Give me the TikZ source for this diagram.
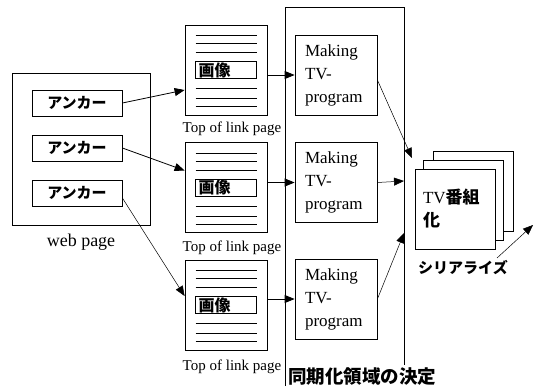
\documentclass[tikz,border=0pt]{standalone}
\usepackage{fontspec}
\setmainfont{Liberation Serif}
\newfontfamily\jpfont{Noto Sans CJK JP}
\usetikzlibrary{arrows.meta}

\tikzset{
  box/.style={draw, line width=0.8pt, inner sep=0pt},
  anchorbox/.style={box, minimum width=90pt, minimum height=26pt,
    font=\jpfont\bfseries\fontsize{15}{18}\selectfont},
  linkpage/.style={box, minimum width=82pt, minimum height=90pt},
  imagebox/.style={box, minimum width=61pt, minimum height=17pt, text width=55pt,
    align=left, inner xsep=3pt, font=\jpfont\bfseries\fontsize{16}{18}\selectfont},
  makingbox/.style={box, minimum width=82pt, minimum height=80pt, text width=62pt,
    inner xsep=10pt, align=left, font=\fontsize{17}{23}\selectfont},
  tvbox/.style={box, fill=white, minimum width=80pt, minimum height=80pt},
  pagetext/.style={font=\fontsize{15}{18}\selectfont},
  jptext/.style={font=\jpfont\bfseries\fontsize{15}{18}\selectfont},
}

\begin{document}
\begin{tikzpicture}[x=1pt, y=-1pt, >={Triangle[length=10pt,width=8pt]}]
    \useasboundingbox (0,0) rectangle (540,386);

    % web page with anchors
    \node[box, minimum width=138pt, minimum height=152pt] (web) at (81,149) {};
    \node[font=\fontsize{18}{20}\selectfont] (weblabel) at (81,242) {web page};
    \node[anchorbox] (anc1) at (77,103) {アンカー};
    \node[anchorbox] (anc2) at (77,148) {アンカー};
    \node[anchorbox] (anc3) at (77,193) {アンカー};

    % link pages
    \node[linkpage] (lp1) at (226,70) {};
    \node[linkpage] (lp2) at (226,187.5) {};
    \node[linkpage] (lp3) at (226,305) {};
    \foreach \p in {lp1,lp2,lp3} {
        \node[imagebox] (img\p) at (\p) {画像};
        \foreach \d in {11,19,28,64,74,82}
            \draw[line width=0.6pt] ([shift={(11,\d)}]\p.north west) -- ([shift={(-10,\d)}]\p.north east);
    }
    \node[pagetext] (lplabel1) at (232,129) {Top of link page};
    \node[pagetext] (lplabel2) at (232,248) {Top of link page};
    \node[pagetext] (lplabel3) at (232,367) {Top of link page};

    % synchronisation area
    \draw[line width=0.8pt] (285,386) -- (285,7) -- (404,7) -- (404,365);
    \node[makingbox] (mk1) at (336,75) {Making\\TV-\\program};
    \node[makingbox] (mk2) at (336,182.5) {Making\\TV-\\program};
    \node[makingbox] (mk3) at (336,299) {Making\\TV-\\program};
    \node[jptext, font=\jpfont\bfseries\fontsize{18.5}{20}\selectfont] (synclabel) at (362,377) {同期化領域の決定};

    % TV program stack
    \node[tvbox] (tv3) at (473,191) {};
    \node[tvbox] (tv2) at (463,200) {};
    \node[tvbox, text width=64pt, inner xsep=8pt, align=left, font=\fontsize{17}{23}\selectfont]
        (tv1) at (455,209) {TV{\jpfont\bfseries 番組}\\{\jpfont\bfseries 化}};
    \node[jptext] (serlabel) at (463,268) {シリアライズ};

    \coordinate (t1) at (412,158);
    \coordinate (t2) at (404,181);
    \coordinate (t3) at (404,233);
    \coordinate (s0) at (497,258);
    \coordinate (s1) at (533,225);

    % connectors
    \draw[->, line width=0.8pt] (anc1.east) -- ([yshift=-20pt]lp1.west);
    \draw[->, line width=0.8pt] (anc2.east) -- ([yshift=17pt]lp2.west);
    \draw[->, line width=0.5pt] ([yshift=-5pt]anc3.east) -- ([yshift=9pt]lp3.west);
    \draw[->, line width=0.8pt] (mk1.west -| lp1.east) -- (mk1.west);
    \draw[->, line width=0.8pt] (mk2.west -| lp2.east) -- (mk2.west);
    \draw[->, line width=0.8pt] (mk3.west -| lp3.east) -- (mk3.west);
    \draw[->, line width=0.5pt] ([yshift=-5pt]mk1.east) -- (t1);
    \draw[->, line width=0.5pt] (mk2.east) -- (t2);
    \draw[->, line width=0.5pt] (mk3.east) -- (t3);
    \draw[->, line width=0.5pt] (s0) -- (s1);
\end{tikzpicture}
\end{document}
